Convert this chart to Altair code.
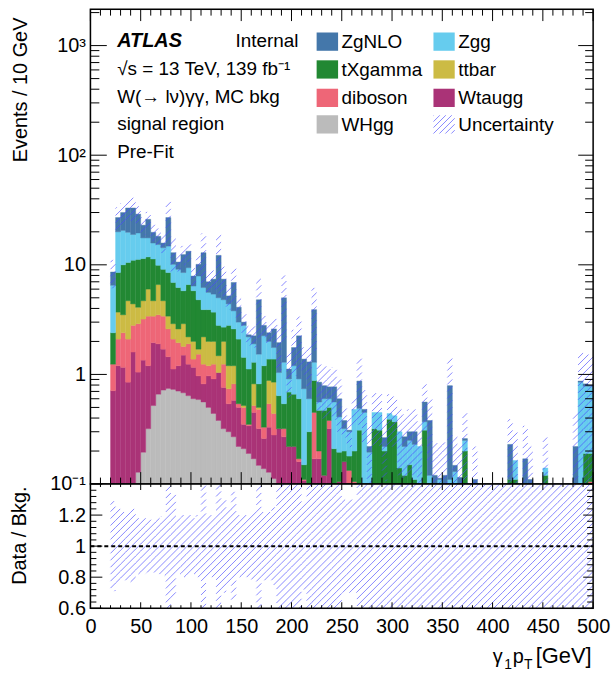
import math
import numpy as np
import pandas as pd
import altair as alt

FONT = "Liberation Sans"

# ---------------- values ----------------
bin_edges = list(range(20, 505, 5))          # 20 ... 500 GeV, 96 bins of 5 GeV

series_names = ["WHgg", "Wtaugg", "diboson", "ttbar", "tXgamma", "Zgg", "ZgNLO"]
series_colors = ["#BBBBBB", "#AA3377", "#EE6677", "#CCBB44", "#228833", "#66CCEE", "#4477AA"]

# stack tops (cumulative height after adding each component, bottom-up)
top_WHgg = [0, 0, 0, 0, 0, 0.128, 0.195, 0.32, 0.52, 0.66,
            0.72, 0.745, 0.73, 0.705, 0.68, 0.64, 0.60, 0.59, 0.56, 0.50,
            0.44, 0.38, 0.32, 0.30, 0.27, 0.22, 0.21, 0.19, 0.17, 0.148,
            0.138, 0.128, 0.112, 0.1] + [0.0] * 62

top_Wtaugg = [0.71, 1.2, 1.16, 0.85, 1.6, 1.05, 1.35, 1.2, 1.95, 1.9,
              1.7, 1.45, 1.12, 1.2, 1.5, 1.24, 1.16, 0.97, 0.82, 0.97,
              0.91, 1.04, 0.76, 0.54, 0.58, 0.50, 0.35, 0.34, 0.45, 0.32,
              0.26, 0.33, 0.28, 0.32, 0.27, 0.22, 0.22, 0.16, 0.108, 0.1,
              0.17, 0.17, 0.12, 0.32, 0.1, 0.105, 0.16, 0.1, 0, 0.09,
              0, 0, 0, 0, 0, 0, 0.1, 0, 0, 0.1,
              0, 0, 0] + [0.0] * 33

top_diboson = [1.24, 2.1, 2.4, 2.1, 2.8, 2.9, 3.2, 3.4, 3.4, 3.5,
               3.4, 2.6, 2.1, 1.95, 1.8, 1.9, 1.38, 1.53, 1.24, 1.2,
               1.24, 1.04, 1.24, 0.74, 0.82, 0.54, 0.50, 0.35, 0.52, 0.48,
               0.33, 0.54, 0.44, 0.32, 0.32, 0.22, 0.22, 0.17, 0.11, 0.1,
               0.45, 0.2, 0.12, 0.38, 0.1, 0.105, 0.16, 0.133, 0.105, 0.09,
               0, 0, 0, 0, 0, 0, 0.1, 0, 0, 0.1,
               0, 0, 0] + [0.0] * 32 + [0.105]

top_ttbar = [1.24, 3.7, 3.5, 4.7, 4.4, 4.1, 4.7, 6.0, 4.7, 6.6,
             4.7, 3.4, 2.9, 2.6, 2.9, 2.2, 2.0, 1.7, 2.2, 2.0,
             2.0, 1.48, 2.0, 1.2, 1.2, 0.54, 0.52, 0.35, 0.82, 0.50,
             0.33, 0.88, 0.85, 0.32, 0.32, 0.22, 0.22, 0.17, 0.11, 0.1,
             0.45, 0.2, 0.12, 0.38, 0.1, 0.105, 0.16, 0.133, 0.105, 0.09,
             0, 0, 0, 0, 0, 0, 0.1, 0, 0, 0.1,
             0, 0, 0] + [0.0] * 32 + [0.105]

top_tXgamma = [2.4, 8.5, 10.0, 10.5, 11.0, 11.2, 11.4, 11.8, 11.3, 9.9,
               9.1, 8.5, 6.9, 6.2, 5.8, 6.6, 5.8, 4.8, 3.9, 3.9,
               3.7, 2.8, 2.7, 2.8, 2.6, 2.1, 1.43, 1.12, 1.29, 0.82,
               1.2, 1.38, 1.38, 0.64, 0.54, 0.69, 0.66, 0.60, 0.15, 0.3,
               0.88, 0.47, 0.47, 0.5, 0.21, 0.195, 0.2, 0.18, 0.2, 0.31,
               0.1, 0, 0.32, 0.31, 0.2, 0.39, 0.37, 0.14, 0.12, 0.15,
               0.11, 0, 0.31, 0, 0, 0, 0, 0, 0, 0,
               0.2, 0, 0, 0, 0, 0, 0, 0, 0, 0.11,
               0.11, 0, 0, 0, 0, 0, 0.12, 0, 0, 0,
               0, 0, 0, 0, 0.19, 0.19]

top_Zgg = [6.5, 20.0, 20.6, 19.8, 18.9, 19.5, 17.6, 17.6, 15.8, 15.3,
           14.3, 14.8, 10.1, 9.1, 8.5, 9.4, 6.4, 7.9, 6.2, 5.6,
           5.4, 5.0, 4.8, 4.4, 3.8, 3.0, 2.8, 2.2, 1.9, 1.53,
           2.25, 2.0, 1.76, 1.04, 1.29, 0.91, 1.2, 0.91, 0.74, 0.6,
           1.29, 0.56, 0.6, 0.6, 0.56, 0.41, 0.32, 0.3, 0.48, 0.49,
           0.45, 0.195, 0.45, 0.45, 0.22, 0.44, 0.42, 0.30, 0.22, 0.25,
           0.23, 0.22, 0.37, 0.12, 0, 0.11, 0, 0.11, 0.13, 0,
           0.25, 0, 0, 0, 0, 0, 0, 0, 0, 0.11,
           0.164, 0, 0, 0, 0, 0, 0.14, 0, 0, 0,
           0, 0, 0, 0.85, 0.78, 0.78]

top_ZgNLO = [8.6, 27, 30, 33, 33, 29, 23, 26, 19.8, 18.2,
             15.8, 27, 12.9, 10.6, 12.4, 13.3, 7.9, 10.1, 12.9, 7.0,
             7.4, 12.2, 7.4, 5.2, 6.9, 4.1, 3.0, 2.3, 2.25, 4.8,
             2.8, 2.4, 2.6, 1.95, 5.0, 1.12, 1.76, 2.25, 1.38, 1.3,
             3.9, 0.85, 0.79, 0.77, 0.77, 0.6, 0.38, 0.31, 0.48, 0.87,
             0.48, 0.22, 0.45, 0.45, 0.265, 0.44, 0.42, 0.30, 0.27, 0.30,
             0.30, 0.22, 0.56, 0.38, 0.12, 0.113, 0.12, 0.79, 0.148, 0.115,
             0.26, 0, 0.11, 0, 0, 0, 0, 0, 0, 0.23,
             0.164, 0, 0.17, 0.11, 0, 0, 0.14, 0, 0, 0,
             0, 0, 0.22, 0.87, 0.82, 0.8]

# relative uncertainty of the total prediction per bin
rel_unc = [0.29, 0.24, 0.22, 0.22, 0.24, 0.18, 0.18, 0.17, 0.17, 0.18,
           0.19, 0.45, 0.34, 0.18, 0.2, 0.2, 0.18, 0.2, 0.5, 0.2,
           0.2, 0.55, 0.3, 0.25, 0.35, 0.2, 0.2, 0.2, 0.22, 0.55,
           0.22, 0.22, 0.25, 0.45, 0.6, 0.45, 0.45, 0.5, 0.28, 0.45,
           0.58, 0.45, 0.5, 0.45, 0.5, 0.5, 0.3, 0.3, 0.3, 0.6,
           0.5, 0.6, 0.5, 0.5, 0.6, 0.5, 0.5, 0.6, 0.6, 0.6,
           0.6, 0.7, 0.45, 0.6, 1.0, 1.0, 1.0, 0.8, 0.9, 1.0,
           0.7, 1.0, 1.0, 1.0, 1.0, 1.0, 1.0, 1.0, 1.0, 0.7,
           0.8, 1.0, 1.0, 1.0, 1.0, 1.0, 0.9, 1.0, 1.0, 1.0,
           1.0, 1.0, 1.0, 0.85, 0.9, 0.9]

legend_col1 = [("ZgNLO", "#4477AA"), ("tXgamma", "#228833"), ("diboson", "#EE6677"), ("WHgg", "#BBBBBB")]
legend_col2 = [("Zgg", "#66CCEE"), ("ttbar", "#CCBB44"), ("Wtaugg", "#AA3377")]

# ---------------- geometry / scales ----------------
W, H1, H2 = 506, 478, 125
YMIN, YMAX = 0.1, 2150.0
LMIN, LMAX = math.log10(YMIN), math.log10(YMAX)
RMIN, RMAX = 0.6, 1.4
HATCH = 7.0
HATCH_COLOR = "#4848ff"

NB = len(bin_edges) - 1
tops = np.array([top_WHgg, top_Wtaugg, top_diboson, top_ttbar,
                 top_tXgamma, top_Zgg, top_ZgNLO], dtype=float)
cum = np.maximum.accumulate(tops, axis=0)
total = cum[-1]

xs = alt.Scale(domain=[0, 500], nice=False, zero=False)
ys = alt.Scale(type="log", domain=[YMIN, YMAX], nice=False, clamp=True)
rs = alt.Scale(domain=[RMIN, RMAX], nice=False, zero=False, clamp=True)


def xpx(v):
    return v / 500.0 * W


def xval(p):
    return p * 500.0 / W


def main_px(v):
    return (math.log10(v) - LMIN) / (LMAX - LMIN) * H1


def main_val(p):
    return 10 ** (LMIN + p / H1 * (LMAX - LMIN))


def ratio_px(v):
    return (v - RMIN) / (RMAX - RMIN) * H2


def ratio_val(p):
    return RMIN + p / H2 * (RMAX - RMIN)


def hatch(x0, x1, y0, y1, s=HATCH):
    out = []
    if x1 <= x0 or y1 <= y0:
        return out
    kmin = math.floor((y0 - x1) / s)
    kmax = math.ceil((y1 - x0) / s)
    for k in range(kmin, kmax + 1):
        c = k * s
        xa = max(x0, y0 - c)
        xb = min(x1, y1 - c)
        if xb - xa > 0.25:
            out.append((xa, xa + c, xb, xb + c))
    return out


# stacked bars
bar_rows = []
for k, name in enumerate(series_names):
    for i in range(NB):
        lo = cum[k - 1][i] if k > 0 else 0.0
        hi = cum[k][i]
        if hi > lo and hi > YMIN:
            bar_rows.append({"x0": bin_edges[i], "x1": bin_edges[i + 1],
                             "lo": max(lo, 0.01), "hi": hi, "series": name})
bars_df = pd.DataFrame(bar_rows)

# hatched uncertainty, main panel
mh = []
for i in range(NB):
    t = total[i]
    if t <= 0:
        continue
    lo = t * (1 - rel_unc[i])
    hi = t * (1 + rel_unc[i])
    p0 = max(0.0, main_px(lo)) if lo > 0 else 0.0
    p1 = min(float(H1), main_px(hi))
    for ax, ay, bx, by in hatch(xpx(bin_edges[i]), xpx(bin_edges[i + 1]), p0, p1):
        mh.append({"x": xval(ax), "y": main_val(ay), "x2": xval(bx), "y2": main_val(by)})
mh_df = pd.DataFrame(mh)

# hatched uncertainty, ratio panel
rh = []
for i in range(NB):
    r = rel_unc[i] if total[i] > 0 else 1.0
    p0 = ratio_px(max(RMIN, 1 - r))
    p1 = ratio_px(min(RMAX, 1 + r))
    for ax, ay, bx, by in hatch(xpx(bin_edges[i]), xpx(bin_edges[i + 1]), p0, p1):
        rh.append({"x": xval(ax), "y": ratio_val(ay), "x2": xval(bx), "y2": ratio_val(by)})
rh_df = pd.DataFrame(rh)

one = pd.DataFrame({"a": [0]})


def text_layer(s, x, y, size=19, weight="normal", style="normal", align="left"):
    return alt.Chart(one).mark_text(
        text=s, font=FONT, fontSize=size, fontWeight=weight, fontStyle=style,
        align=align, baseline="alphabetic", color="black"
    ).encode(x=alt.value(x), y=alt.value(y))


def xticks(vals, scale, y_a, y_b):
    return alt.Chart(pd.DataFrame({"v": vals})).mark_rule(color="black", strokeWidth=1).encode(
        x=alt.X("v:Q", scale=scale, axis=None), y=alt.value(y_a), y2=alt.value(y_b))


def yticks(vals, scale, x_a, x_b):
    return alt.Chart(pd.DataFrame({"v": vals})).mark_rule(color="black", strokeWidth=1).encode(
        y=alt.Y("v:Q", scale=scale, axis=None), x=alt.value(x_a), x2=alt.value(x_b))


def frame(h):
    return alt.Chart(one).mark_rect(filled=False, stroke="black", strokeWidth=1.5).encode(
        x=alt.value(0), x2=alt.value(W), y=alt.value(0), y2=alt.value(h))


x_major = list(range(0, 501, 50))
x_minor = [v for v in range(0, 501, 10) if v % 50 != 0]
y_major = [0.1, 1, 10, 100, 1000]
y_minor = [k * 10.0 ** e for e in range(-1, 4) for k in range(2, 10) if k * 10.0 ** e < YMAX]
r_major = [0.6, 0.8, 1.0, 1.2, 1.4]
r_minor = [round(0.6 + 0.04 * j, 2) for j in range(1, 20) if j % 5 != 0]

# ---------------- main panel ----------------
main_y_axis = alt.Axis(
    orient="left", values=y_major,
    labelExpr="datum.value >= 500 ? '10³' : datum.value >= 50 ? '10²' : datum.value >= 5 ? '10' : datum.value >= 0.5 ? '1' : '10⁻¹'",
    ticks=False, domain=False, grid=False, labelPadding=5, labelFontSize=20,
    labelOverlap=False, labelFont=FONT, labelColor="black",
    title="Events / 10 GeV", titleFontSize=20, titleFont=FONT, titleColor="black",
    titleFontWeight="normal", titleX=-70, titleY=8, titleAlign="right",
    titleAngle=270, titleBaseline="middle")

bars = alt.Chart(bars_df).mark_rect(strokeWidth=0.4).encode(
    x=alt.X("x0:Q", scale=xs, axis=None), x2="x1:Q",
    y=alt.Y("hi:Q", scale=ys, axis=main_y_axis), y2="lo:Q",
    color=alt.Color("series:N", scale=alt.Scale(domain=series_names, range=series_colors), legend=None),
    stroke=alt.Stroke("series:N", scale=alt.Scale(domain=series_names, range=series_colors), legend=None))

main_hatch = alt.Chart(mh_df).mark_rule(color=HATCH_COLOR, strokeWidth=1, opacity=0.65).encode(
    x=alt.X("x:Q", scale=xs, axis=None), x2="x2:Q",
    y=alt.Y("y:Q", scale=ys, axis=None), y2="y2:Q")

main_layers = [bars, main_hatch,
               xticks(x_major, xs, H1, H1 - 12), xticks(x_minor, xs, H1, H1 - 6.5),
               xticks(x_major, xs, 0, 12), xticks(x_minor, xs, 0, 6.5),
               yticks(y_major, ys, 0, 16.5), yticks(y_minor, ys, 0, 9),
               yticks(y_major, ys, W, W - 15), yticks(y_minor, ys, W, W - 8),
               frame(H1)]

# annotations
main_layers += [
    text_layer("ATLAS", 27, 38, size=20, weight="bold", style="italic"),
    text_layer("Internal", 146, 38),
    text_layer("√s = 13 TeV, 139 fb⁻¹", 27, 66),
    text_layer("W(→ lν)γγ, MC bkg", 27, 94),
    text_layer("signal region", 27, 122),
    text_layer("Pre-Fit", 27, 150),
]

# legend
row_c = [32.7, 60.7, 89.3, 116.0]
SW_H = 9.2
for (name, col), c in zip(legend_col1, row_c):
    main_layers.append(alt.Chart(one).mark_rect(color=col).encode(
        x=alt.value(227.7), x2=alt.value(249.3), y=alt.value(c - SW_H), y2=alt.value(c + SW_H)))
    main_layers.append(text_layer(name, 252.7, c + 6.5))
for (name, col), c in zip(legend_col2, row_c[:3]):
    main_layers.append(alt.Chart(one).mark_rect(color=col).encode(
        x=alt.value(345.3), x2=alt.value(366.7), y=alt.value(c - SW_H), y2=alt.value(c + SW_H)))
    main_layers.append(text_layer(name, 370.3, c + 6.5))
# hatched swatch for Uncertainty
c = row_c[3]
for ax, ay, bx, by in hatch(0, 21.4, 0, 2 * SW_H, s=6.0):
    main_layers.append(alt.Chart(one).mark_rule(color=HATCH_COLOR, strokeWidth=1, opacity=0.65).encode(
        x=alt.value(345.3 + ax), y=alt.value(c + SW_H - ay),
        x2=alt.value(345.3 + bx), y2=alt.value(c + SW_H - by)))
main_layers.append(text_layer("Uncertainty", 370.3, c + 6.5))

main = alt.layer(*main_layers).resolve_axis(x="independent", y="independent").properties(
    width=W, height=H1)

# ---------------- ratio panel ----------------
ratio_x_axis = alt.Axis(orient="bottom", values=x_major, ticks=False, domain=False, grid=False,
                        labelPadding=8, labelFontSize=20, labelFont=FONT, labelColor="black",
                        labelFlush=False, labelOverlap=False, title=None)
ratio_y_axis = alt.Axis(orient="left", values=[0.6, 0.8, 1.0, 1.2],
                        labelExpr="format(datum.value, '.1~f')",
                        ticks=False, domain=False, grid=False, labelPadding=5, labelFontSize=20,
                        labelFont=FONT, labelColor="black", labelOverlap=False,
                        title="Data / Bkg.", titleFontSize=20, titleFont=FONT, titleColor="black",
                        titleFontWeight="normal", titleX=-71, titleY=2, titleAlign="right",
                        titleAngle=270, titleBaseline="middle")

ratio_hatch = alt.Chart(rh_df).mark_rule(color=HATCH_COLOR, strokeWidth=1, opacity=0.65).encode(
    x=alt.X("x:Q", scale=xs, axis=ratio_x_axis), x2="x2:Q",
    y=alt.Y("y:Q", scale=rs, axis=ratio_y_axis), y2="y2:Q")

unity = alt.Chart(pd.DataFrame({"v": [1.0]})).mark_rule(
    color="black", strokeWidth=2, strokeDash=[4, 3]).encode(
    y=alt.Y("v:Q", scale=rs, axis=None), x=alt.value(0), x2=alt.value(W))

ratio_layers = [ratio_hatch, unity,
                xticks(x_major, xs, H2, H2 - 6), xticks(x_minor, xs, H2, H2 - 3),
                xticks(x_major, xs, 0, 6), xticks(x_minor, xs, 0, 3),
                yticks(r_major, rs, 0, 12), yticks(r_minor, rs, 0, 6),
                yticks(r_major, rs, W, W - 10), yticks(r_minor, rs, W, W - 6),
                frame(H2),
                text_layer("γ", 405, 179.7, size=20),
                text_layer("1", 416.5, 186.5, size=14),
                text_layer("p", 425, 179.7, size=20),
                text_layer("T", 436.5, 186.5, size=14),
                text_layer("[GeV]", 504.5, 179.7, size=22, align="right")]

ratio = alt.layer(*ratio_layers).resolve_axis(x="independent", y="independent").properties(
    width=W, height=H2)

chart = alt.vconcat(main, ratio, spacing=0, bounds="flush").properties(
    padding={"left": 9, "top": 5, "right": 0, "bottom": 0}
).configure_view(stroke="transparent").configure(font=FONT)

chart.save("out.html", embed_options={"renderer": "svg", "actions": False})
